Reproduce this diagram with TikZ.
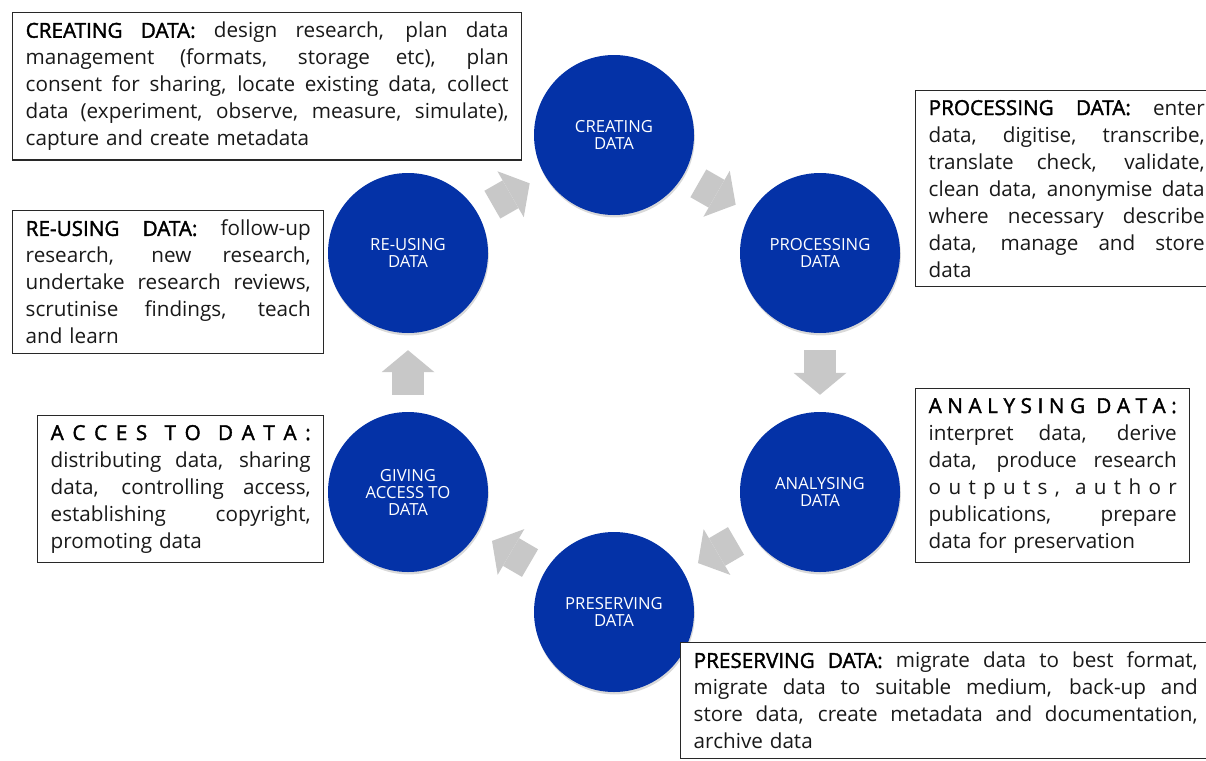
\documentclass[tikz,border=0pt]{standalone}
\usepackage{fontspec}
\setmainfont{Open Sans}
\newfontfamily\headfont[FakeBold=1.8]{Open Sans}
\usepackage{tikz}
\usetikzlibrary{positioning, arrows.meta, shadows}

\definecolor{cycleblue}{RGB}{4,50,167}
\definecolor{arrowgray}{RGB}{200,200,200}
\definecolor{boxline}{RGB}{40,40,40}
\definecolor{txt}{RGB}{25,25,25}

% one justified line of a box, and the last (ragged) one
\newlength{\boxw}
\newcommand{\fl}[1]{\hbox to\boxw{\spaceskip=\fontdimen2\font plus 1fil minus \fontdimen4\font\relax#1}}
\newcommand{\lastl}[1]{\hbox{#1}}
\newcommand{\hd}[1]{{\headfont\color{black}#1}}

\begin{document}
\begin{tikzpicture}[x=0.75pt, y=-0.75pt, on grid,
    stage/.style={circle, fill=cycleblue, minimum size=120pt, inner sep=0pt,
      align=center, text=white, font=\fontsize{12.5}{12.75}\selectfont,
      drop shadow={shadow xshift=0.6pt, shadow yshift=-1.8pt, opacity=0.3}},
    flow/.style={color=arrowgray, line width=24pt,
      -{Triangle[width=39.75pt, length=16.5pt, line width=0pt]},
      shorten <=12.7pt, shorten >=12.7pt},
    info/.style={draw=boxline, line width=1.1pt, fill=white, anchor=north west,
      inner xsep=9.75pt, inner ysep=7pt, text=txt, text width=#1,
      execute at begin node={\setlength{\boxw}{#1}},
      font=\fontsize{15.5}{20.25}\selectfont}]
    \useasboundingbox (0,0) rectangle (1206,760);
    \clip (0,0) rectangle (1206,760);

    % the cycle
    \node[stage] (create) at (614,135) {CREATING\\DATA};
    \node[stage] (process) [below right=88.5pt and 154.5pt of create] {PROCESSING\\DATA};
    \node[stage] (analyse) [below=179.25pt of process] {ANALYSING\\DATA};
    \node[stage] (preserve) [below left=90pt and 154.5pt of analyse] {PRESERVING\\DATA};
    \node[stage] (access) [left=309pt of analyse] {GIVING\\ACCESS TO\\DATA};
    \node[stage] (reuse) [above=179.25pt of access] {RE-USING\\DATA};

    \path[flow]
    (reuse) edge (create)
    (create) edge (process)
    (process) edge (analyse)
    (analyse) edge (preserve)
    (preserve) edge (access)
    (access) edge (reuse);

    % descriptions
    \node[info=362.25pt] (createtxt) at (12,12) {%
      \fl{\hd{CREATING DATA:} design research, plan data}
      \fl{management (formats, storage etc), plan}
      \fl{consent for sharing, locate existing data, collect}
      \fl{data (experiment, observe, measure, simulate),}
      \lastl{capture and create metadata}};
    \node[info=207pt] (processtxt) at (915,90) {%
      \fl{\hd{PROCESSING DATA:} enter}
      \fl{data, digitise, transcribe,}
      \fl{translate check, validate,}
      \fl{clean data, anonymise data}
      \fl{where necessary describe}
      \fl{data, manage and store}
      \lastl{data}};
    \node[info=213.75pt] (reusetxt) at (12,210) {%
      \fl{\hd{RE-USING DATA:} follow-up}
      \fl{research, new research,}
      \fl{undertake research reviews,}
      \fl{scrutinise findings, teach}
      \lastl{and learn}};
    \node[info=195pt] (accesstxt) at (37,415) {%
      \fl{\hd{A C C E S \ T O \ D A T A :}}
      \fl{distributing data, sharing}
      \fl{data, controlling access,}
      \fl{establishing copyright,}
      \lastl{promoting data}};
    \node[info=186pt] (analysetxt) at (915,388) {%
      \fl{\hd{A N A L Y S I N G \ D A T A :}}
      \fl{interpret data, derive}
      \fl{data, produce research}
      \fl{o u t p u t s , \ a u t h o r}
      \fl{publications, prepare}
      \lastl{data for preservation}};
    \node[info=378pt] (preservetxt) at (680,642) {%
      \fl{\hd{PRESERVING DATA:} migrate data to best format,}
      \fl{migrate data to suitable medium, back-up and}
      \fl{store data, create metadata and documentation,}
      \lastl{archive data}};
\end{tikzpicture}
\end{document}
